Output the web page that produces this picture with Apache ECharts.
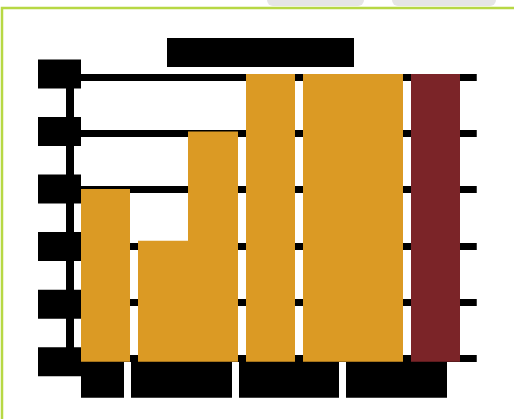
<!DOCTYPE html>
<html>
<head>
<meta charset="utf-8">
<script src="https://cdn.jsdelivr.net/npm/echarts@6/dist/echarts.min.js"></script>
<style>
html,body{margin:0;padding:0;background:#fff;}
#chart{width:514px;height:419px;}
</style>
</head>
<body>
<div id="chart"></div>
<script>
// ---- data ----
var categories = ['Start', 'Phase One', 'Phase Two', 'Phase Three', 'Total'];
var singleValues = [3, null, 5, null, 5];      // one bar per category
var pairLeftValues = [null, 2.1, null, 5, null]; // left bar of a pair
var pairRightValues = [null, 4, null, 5, null];  // right bar of a pair
var yTickLabels = ['0', '1', '2', '3', '4', '5'];
var titleText = 'Project Progress';

var ORANGE = '#DB9A24';
var RED = '#7B2428';

// label box widths / offsets (style only)
var xLabelRich = {
  b0: {width: 43, height: 36, backgroundColor: '#000', color: '#000', fontSize: 12},
  b1: {width: 101, height: 36, backgroundColor: '#000', color: '#000', fontSize: 12},
  b2: {width: 100, height: 36, backgroundColor: '#000', color: '#000', fontSize: 12},
  b3: {width: 101, height: 36, backgroundColor: '#000', color: '#000', fontSize: 12},
  g0: {width: 6, height: 36},
  g1: {width: 13, height: 36},
  g2: {width: 37, height: 36},
  g3: {width: 87, height: 36}
};

var chart = echarts.init(document.getElementById('chart'), null, {renderer: 'canvas'});

var singleData = singleValues.map(function (v, i) {
  if (v === null) return null;
  return {value: v, itemStyle: {color: i === categories.length - 1 ? RED : ORANGE}};
});

chart.setOption({
  backgroundColor: '#fff',
  animation: false,
  title: {
    text: '{b|' + titleText + '}',
    left: 167, top: 38, padding: 0,
    textStyle: {
      rich: {b: {width: 187, height: 29, backgroundColor: '#000', color: '#000', fontSize: 14, align: 'center'}}
    }
  },
  graphic: [
    {type: 'rect', shape: {x: 267, y: -6, width: 97, height: 12, r: 6}, style: {fill: '#e5e5e5'}, z: -1},
    {type: 'rect', shape: {x: 392, y: -6, width: 104, height: 12, r: 6}, style: {fill: '#e5e5e5'}, z: -1},
    {type: 'polyline', shape: {points: [[2, 430], [2, 8], [520, 8]]}, style: {stroke: '#b7d844', lineWidth: 2.5, fill: null}, z: 1}
  ],
  grid: [
    {left: 64.25, right: 37.25, top: 74, bottom: 57.3, containLabel: false},
    {left: 64.25, right: 37.25, top: 77.5, bottom: 61, containLabel: false}
  ],
  xAxis: [
    {
      type: 'category', gridIndex: 0, data: categories,
      axisLine: {show: false}, axisTick: {show: false}, splitLine: {show: false},
      axisLabel: {
        margin: 0, interval: 0,
        formatter: function (val, idx) {
          if (idx === 0) return '{b0|' + val + '}{g0| }';
          if (idx === 1) return '{b1|' + val + '}{g1| }';
          if (idx === 2) return '{g2| }{b2|' + val + '}';
          if (idx === 3) return '{g3| }{b3|' + val + '}';
          return '';
        },
        rich: xLabelRich
      }
    },
    {type: 'category', gridIndex: 0, data: categories, show: false},
    {type: 'category', gridIndex: 1, data: categories, show: false}
  ],
  yAxis: [
    {
      type: 'value', gridIndex: 0, min: 0, max: 5, interval: 1, offset: -5.75,
      axisLine: {show: true, lineStyle: {color: '#000', width: 8}},
      axisTick: {show: false},
      splitLine: {show: false},
      axisLabel: {
        margin: -11,
        formatter: function (v) { return '{b|' + yTickLabels[Math.round(v)] + '}'; },
        rich: {b: {width: 43, height: 29, backgroundColor: '#000', color: '#000', fontSize: 12, align: 'center'}}
      }
    },
    {
      type: 'value', gridIndex: 1, min: 0, max: 5, interval: 1,
      axisLine: {show: false}, axisTick: {show: false}, axisLabel: {show: false},
      splitLine: {show: true, lineStyle: {color: '#000', width: 7}}
    }
  ],
  series: [
    {
      type: 'bar', xAxisIndex: 0, yAxisIndex: 0, data: singleData,
      barWidth: 49, itemStyle: {color: ORANGE}, z: 3
    },
    {
      type: 'bar', xAxisIndex: 1, yAxisIndex: 0, data: pairLeftValues,
      barWidth: 50, barGap: '0%', itemStyle: {color: ORANGE}, z: 3
    },
    {
      type: 'bar', xAxisIndex: 1, yAxisIndex: 0, data: pairRightValues,
      barWidth: 50, barGap: '0%', itemStyle: {color: ORANGE}, z: 3
    }
  ]
});
</script>
</body>
</html>
